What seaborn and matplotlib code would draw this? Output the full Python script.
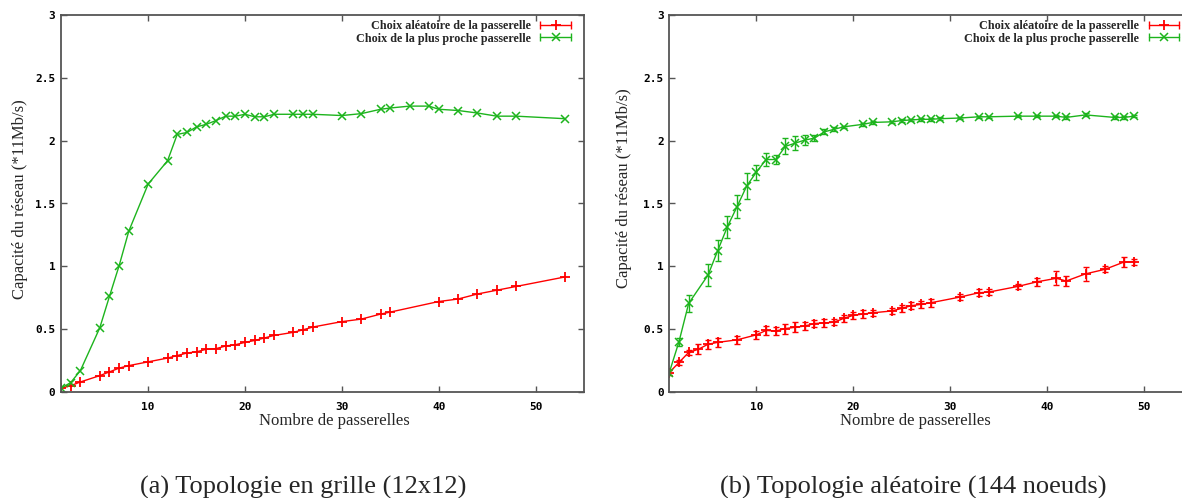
import matplotlib
matplotlib.use("Agg")
import matplotlib.pyplot as plt
import seaborn as sns
from matplotlib.lines import Line2D
from matplotlib.legend_handler import HandlerBase

# ---------------- data ----------------
series_labels = ["Choix aléatoire de la passerelle", "Choix de la plus proche passerelle"]

grid_x_rand = [1, 2, 3, 5, 6, 7, 8, 10, 12, 13, 14, 15, 16, 17, 18, 19, 20, 21, 22, 23, 25, 26, 27,
               30, 32, 34, 35, 40, 42, 44, 46, 48, 53]
grid_y_rand = [0.03, 0.05, 0.08, 0.13, 0.16, 0.19, 0.21, 0.24, 0.27, 0.29, 0.31, 0.32, 0.34, 0.345,
               0.366, 0.376, 0.395, 0.41, 0.43, 0.45, 0.475, 0.495, 0.517, 0.56, 0.58, 0.62, 0.636,
               0.72, 0.74, 0.78, 0.81, 0.84, 0.915]
grid_x_near = [1, 2, 3, 5, 6, 7, 8, 10, 12, 13, 14, 15, 16, 17, 18, 19, 20, 21, 22, 23, 25, 26, 27,
               30, 32, 34, 35, 37, 39, 40, 42, 44, 46, 48, 53]
grid_y_near = [0.03, 0.075, 0.17, 0.51, 0.76, 1.005, 1.28, 1.655, 1.84, 2.05, 2.065, 2.11, 2.13, 2.16,
               2.195, 2.195, 2.21, 2.19, 2.19, 2.21, 2.21, 2.21, 2.21, 2.2, 2.215, 2.25, 2.26, 2.275,
               2.275, 2.25, 2.24, 2.22, 2.195, 2.195, 2.175]

rand_x_rand = [1, 2, 3, 4, 5, 6, 8, 10, 11, 12, 13, 14, 15, 16, 17, 18, 19, 20, 21, 22, 24, 25, 26,
               27, 28, 31, 33, 34, 37, 39, 41, 42, 44, 46, 48, 49]
rand_y_rand = [0.155, 0.235, 0.315, 0.34, 0.38, 0.395, 0.415, 0.455, 0.49, 0.485, 0.505, 0.515, 0.525,
               0.545, 0.55, 0.555, 0.585, 0.61, 0.62, 0.63, 0.645, 0.665, 0.687, 0.697, 0.71, 0.755,
               0.79, 0.795, 0.84, 0.877, 0.905, 0.883, 0.94, 0.976, 1.035, 1.035]
rand_e_rand = [0.02, 0.02, 0.02, 0.04, 0.035, 0.035, 0.03, 0.03, 0.035, 0.035, 0.04, 0.04, 0.03,
               0.025, 0.03, 0.025, 0.025, 0.03, 0.03, 0.025, 0.025, 0.025, 0.03, 0.025, 0.03, 0.025,
               0.03, 0.025, 0.02, 0.03, 0.055, 0.04, 0.055, 0.025, 0.04, 0.025]
rand_x_near = [1, 2, 3, 5, 6, 7, 8, 9, 10, 11, 12, 13, 14, 15, 16, 17, 18, 19, 21, 22, 24, 25, 26,
               27, 28, 29, 31, 33, 34, 37, 39, 41, 42, 44, 47, 48, 49]
rand_y_near = [0.155, 0.40, 0.705, 0.93, 1.125, 1.315, 1.475, 1.64, 1.75, 1.85, 1.85, 1.955, 1.98,
               2.005, 2.02, 2.07, 2.09, 2.11, 2.13, 2.145, 2.15, 2.16, 2.165, 2.17, 2.17, 2.175,
               2.18, 2.19, 2.19, 2.195, 2.195, 2.195, 2.185, 2.205, 2.185, 2.185, 2.195]
rand_e_near = [0.02, 0.03, 0.065, 0.086, 0.085, 0.086, 0.09, 0.105, 0.06, 0.055, 0.035, 0.064, 0.057,
               0.04, 0.025, 0.02, 0.015, 0.01, 0.012, 0.01, 0.01, 0.01, 0.01, 0.01, 0.01, 0.01,
               0.01, 0.01, 0.01, 0.01, 0.01, 0.01, 0.01, 0.012, 0.01, 0.01, 0.01]

x_ticks = [10, 20, 30, 40, 50]
y_ticks = [0, 0.5, 1, 1.5, 2, 2.5, 3]
y_tick_labels = ["0", "0.5", "1", "1.5", "2", "2.5", "3"]
x_label = "Nombre de passerelles"
y_label = "Capacité du réseau (*11Mb/s)"
captions = ["(a) Topologie en grille (12x12)", "(b) Topologie aléatoire (144 noeuds)"]

# ---------------- style ----------------
sns.set_theme(style="white")
plt.rcParams["font.family"] = ["Liberation Serif", "DejaVu Serif"]

RED = "#ff0000"
GREEN = "#1db41d"
FRAME = "#555555"

W, H = 1182, 498
fig = plt.figure(figsize=(W / 100, H / 100), dpi=100)

def fx(px):
    return px / W

def fy(py):
    return 1 - py / H

ax1 = fig.add_axes([fx(61), fy(392), fx(584) - fx(61), fy(15) - fy(392)])
ax2 = fig.add_axes([fx(669.3), fy(392), fx(1192) - fx(669.3), fy(15) - fy(392)])


class GnuplotErrHandler(HandlerBase):
    """Legend sample like gnuplot's errorbar key: line with caps and a marker in the middle."""
    def create_artists(self, legend, orig_handle, xdescent, ydescent, width, height, fontsize, trans):
        c = orig_handle.get_color()
        y = height / 2 - ydescent
        x0, x1 = -xdescent, -xdescent + width
        line = Line2D([x0, x1], [y, y], color=c, lw=1.0)
        caps = Line2D([x0, x1], [y, y], color=c, lw=0, marker="|", markersize=6,
                      markeredgewidth=1.0)
        mk = Line2D([(x0 + x1) / 2], [y], color=c, lw=0, marker=orig_handle.get_marker(),
                    markersize=orig_handle.get_markersize(),
                    markeredgewidth=orig_handle.get_markeredgewidth())
        for a in (line, caps, mk):
            a.set_transform(trans)
        return [line, caps, mk]


def draw(ax, xr, yr, xn, yn, er=None, en=None, anchor=(0.975, 0.992)):
    sns.lineplot(x=xr, y=yr, ax=ax, color=RED, marker="+", markersize=7, markeredgewidth=1.3,
                 markeredgecolor=RED, linewidth=1.0, estimator=None, sort=False, legend=False)
    sns.lineplot(x=xn, y=yn, ax=ax, color=GREEN, marker="x", markersize=5.5, markeredgewidth=1.1,
                 markeredgecolor=GREEN, linewidth=1.0, estimator=None, sort=False, legend=False)
    if er is not None:
        ax.errorbar(xr, yr, yerr=er, fmt="none", ecolor=RED, elinewidth=1.0, capsize=2.5, capthick=1.0)
    if en is not None:
        ax.errorbar(xn, yn, yerr=en, fmt="none", ecolor=GREEN, elinewidth=1.0, capsize=2.5, capthick=1.0)

    ax.set_xlim(1, 55)
    ax.set_ylim(0, 3)
    ax.set_xticks(x_ticks)
    ax.set_xticklabels([str(t) for t in x_ticks])
    ax.set_yticks(y_ticks)
    ax.set_yticklabels(y_tick_labels)
    ax.tick_params(axis="both", direction="in", length=4, width=1, color=FRAME, top=True,
                   right=True, bottom=True, left=True)
    ax.tick_params(axis="x", pad=7)
    ax.tick_params(axis="y", pad=4)
    for lab in ax.get_xticklabels() + ax.get_yticklabels():
        lab.set_fontfamily("DejaVu Sans Mono")
        lab.set_fontweight("bold")
        lab.set_fontsize(8)
        lab.set_color("black")
    for sp in ax.spines.values():
        sp.set_color(FRAME)
        sp.set_linewidth(1.3)
    ax.set_xlabel(x_label, fontsize=12)
    ax.set_ylabel(y_label, fontsize=12)
    ax.grid(False)

    h_r = Line2D([], [], color=RED, marker="+", markersize=7, markeredgewidth=1.3)
    h_g = Line2D([], [], color=GREEN, marker="x", markersize=5.5, markeredgewidth=1.1)
    leg = ax.legend([h_r, h_g], series_labels, handler_map={Line2D: GnuplotErrHandler()},
                    loc="upper right", bbox_to_anchor=anchor, borderaxespad=0, borderpad=0,
                    frameon=False, markerfirst=False, handlelength=2.5, handletextpad=0.8,
                    labelspacing=0.05,
                    prop={"family": "Liberation Serif", "weight": "bold", "size": 8.7})
    return leg

draw(ax1, grid_x_rand, grid_y_rand, grid_x_near, grid_y_near,
     anchor=((570.7 - 61) / 523, (392 - 20) / 377))
draw(ax2, rand_x_rand, rand_y_rand, rand_x_near, rand_y_near, rand_e_rand, rand_e_near,
     anchor=((1179.3 - 669.3) / 522.7, (392 - 20) / 377))

ax1.xaxis.set_label_coords((334 - 61) / 523, -0.078)
ax2.xaxis.set_label_coords((915 - 669.3) / 522.7, -0.078)
ax1.yaxis.set_label_coords(-0.079, 0.512)
ax2.yaxis.set_label_coords(-0.086, 0.541)
for ax in (ax1, ax2):
    ax.xaxis.label.set_va("center")
    ax.yaxis.label.set_va("center")

fig.text(fx(303), fy(487), captions[0], ha="center", va="center", fontsize=19)
fig.text(fx(913), fy(487), captions[1], ha="center", va="center", fontsize=19)

fig.savefig("out.png", dpi=100, facecolor="white")
